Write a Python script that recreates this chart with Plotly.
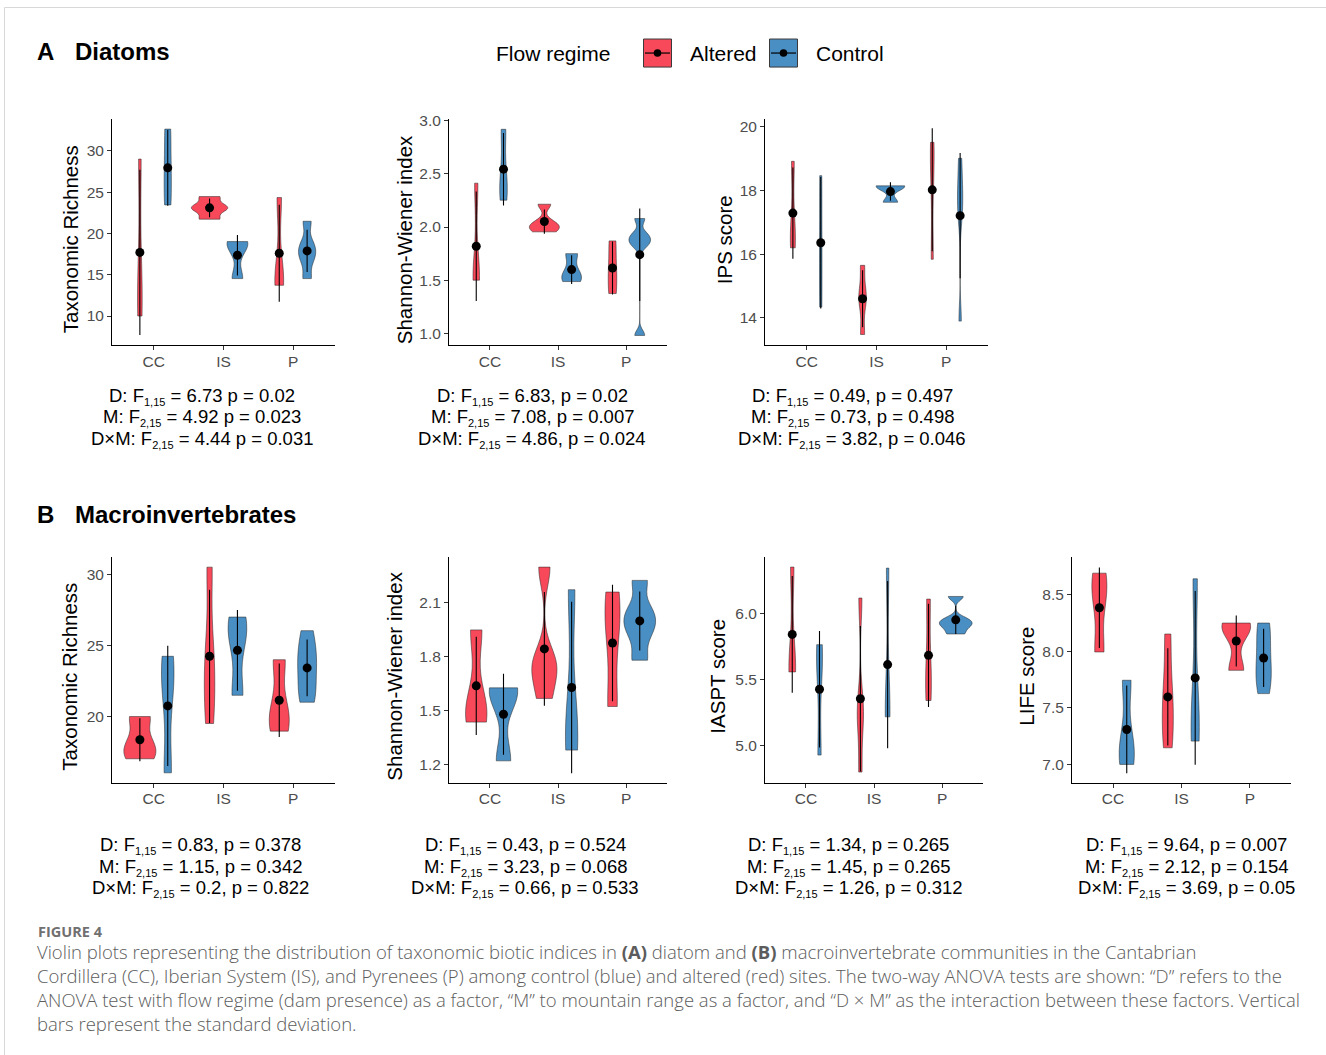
import numpy as np
import plotly.graph_objects as go

W, H = 1326, 1055
SITES = ["CC", "IS", "P"]

# ---------------- Diatoms: observations per site (CC, IS, P) ----------------
dia_richness_alt = [[10.0, 14.1, 29.0], [21.72, 22.9, 23.3, 24.46], [13.72, 14.74, 24.34]]
dia_richness_ctl = [[23.45, 27.74, 32.63], [14.53, 18.51, 19.01], [14.53, 16.8, 17.8, 18.8, 21.47]]
dia_shannon_alt = [[1.5, 1.544, 2.413], [1.955, 2.0, 2.038, 2.215], [1.374, 1.6, 1.87]]
dia_shannon_ctl = [[2.253, 2.462, 2.92], [1.487, 1.563, 1.75], [0.98, 1.83, 1.88, 1.93, 2.08]]
dia_ips_alt = [[16.2, 16.755, 18.915], [13.48, 14.5, 14.77, 15.65], [15.84, 18.71, 19.51]]
dia_ips_ctl = [[14.34, 16.274, 18.466], [17.63, 18.12, 18.145], [13.9, 17.2, 17.7, 18.24, 19.01]]

# ---------------- Macroinvertebrates ----------------
mac_richness_alt = [[17.02, 18.06, 20.0], [19.51, 22.24, 24.71, 30.54], [18.97, 20.47, 24.01]]
mac_richness_ctl = [[16.03, 21.97, 24.25], [21.5, 25.49, 27.02], [21.01, 22.0, 23.6, 24.48, 26.06]]
mac_shannon_alt = [[1.436, 1.528, 1.95], [1.568, 1.74, 1.768, 2.30], [1.523, 1.947, 2.161]]
mac_shannon_ctl = [[1.22, 1.593, 1.627], [1.28, 1.433, 2.174], [1.781, 1.93, 2.0, 2.063, 2.226]]
mac_iaspt_alt = [[5.558, 5.617, 6.354], [4.798, 5.24, 5.26, 6.119], [5.341, 5.6, 6.111]]
mac_iaspt_ctl = [[4.927, 5.589, 5.765], [5.217, 5.279, 6.346], [5.846, 5.9, 5.93, 5.96, 6.131]]
mac_life_alt = [[7.994, 8.47, 8.691], [7.147, 7.407, 7.681, 8.153], [7.832, 8.191, 8.25]]
mac_life_ctl = [[7.0, 7.183, 7.744], [7.206, 7.448, 8.641], [7.626, 7.78, 7.9, 8.149, 8.25]]

# ---------------- Two-way ANOVA results ----------------
dia_richness_anova = [("D", "1,15", "6.73", " p = 0.02"),
                      ("M", "2,15", "4.92", " p = 0.023"),
                      ("D×M", "2,15", "4.44", " p = 0.031")]
dia_shannon_anova = [("D", "1,15", "6.83", ", p = 0.02"),
                     ("M", "2,15", "7.08", ", p = 0.007"),
                     ("D×M", "2,15", "4.86", ", p = 0.024")]
dia_ips_anova = [("D", "1,15", "0.49", ", p = 0.497"),
                 ("M", "2,15", "0.73", ", p = 0.498"),
                 ("D×M", "2,15", "3.82", ", p = 0.046")]
mac_richness_anova = [("D", "1,15", "0.83", ", p = 0.378"),
                      ("M", "2,15", "1.15", ", p = 0.342"),
                      ("D×M", "2,15", "0.2", ", p = 0.822")]
mac_shannon_anova = [("D", "1,15", "0.43", ", p = 0.524"),
                     ("M", "2,15", "3.23", ", p = 0.068"),
                     ("D×M", "2,15", "0.66", ", p = 0.533")]
mac_iaspt_anova = [("D", "1,15", "1.34", ", p = 0.265"),
                   ("M", "2,15", "1.45", ", p = 0.265"),
                   ("D×M", "2,15", "1.26", ", p = 0.312")]
mac_life_anova = [("D", "1,15", "9.64", ", p = 0.007"),
                  ("M", "2,15", "2.12", ", p = 0.154"),
                  ("D×M", "2,15", "3.69", ", p = 0.05")]

caption_lines = [
    "Violin plots representing the distribution of taxonomic biotic indices in <b>(A)</b> diatom and <b>(B)</b> macroinvertebrate communities in the Cantabrian",
    "Cordillera (CC), Iberian System (IS), and Pyrenees (P) among control (blue) and altered (red) sites. The two-way ANOVA tests are shown: \u201cD\u201d refers to the",
    "ANOVA test with flow regime (dam presence) as a factor, \u201cM\u201d to mountain range as a factor, and \u201cD \u00d7 M\u201d as the interaction between these factors. Vertical",
    "bars represent the standard deviation.",
]

# ---------------- styling ----------------
FONT = "Liberation Sans, Arial, Helvetica, sans-serif"
CAP_FONT = "Open Sans, Lato, sans-serif"
RED = "rgb(248,73,90)"
BLUE = "rgb(74,143,196)"
OUTLINE = "rgba(35,35,35,0.85)"
TICK_GREY = "#4D4D4D"
DODGE = 0.2

ROW_A = (120, 346)
ROW_B = (557, 783)

# panel layout: pixel boxes, axis ranges, ticks and the widest violin's width
panels = [
    dict(alt=dia_richness_alt, ctl=dia_richness_ctl, ytitle="Taxonomic Richness", anova=dia_richness_anova,
         px=(112, 335), py=ROW_A, yr=(6.45, 33.84), ticks=[10, 15, 20, 25, 30], fmt="d",
         vw=0.52, tx=70, sx=202),
    dict(alt=dia_shannon_alt, ctl=dia_shannon_ctl, ytitle="Shannon-Wiener index", anova=dia_shannon_anova,
         px=(449, 667), py=ROW_A, yr=(0.887, 3.016), ticks=[1.0, 1.5, 2.0, 2.5, 3.0], fmt=".1f",
         vw=0.44, tx=404, sx=532),
    dict(alt=dia_ips_alt, ctl=dia_ips_ctl, ytitle="IPS score", anova=dia_ips_anova,
         px=(765, 988), py=ROW_A, yr=(13.14, 20.24), ticks=[14, 16, 18, 20], fmt="d",
         vw=0.41, tx=724, sx=852),
    dict(alt=mac_richness_alt, ctl=mac_richness_ctl, ytitle="Taxonomic Richness", anova=mac_richness_anova,
         px=(112, 335), py=ROW_B, yr=(15.33, 31.29), ticks=[20, 25, 30], fmt="d",
         vw=0.46, tx=70, sx=201),
    dict(alt=mac_shannon_alt, ctl=mac_shannon_ctl, ytitle="Shannon-Wiener index", anova=mac_shannon_anova,
         px=(449, 667), py=ROW_B, yr=(1.098, 2.359), ticks=[1.2, 1.5, 1.8, 2.1], fmt=".1f",
         vw=0.465, tx=395, sx=525),
    dict(alt=mac_iaspt_alt, ctl=mac_iaspt_ctl, ytitle="IASPT score", anova=mac_iaspt_anova,
         px=(765, 983), py=ROW_B, yr=(4.717, 6.434), ticks=[5.0, 5.5, 6.0], fmt=".1f",
         vw=0.48, tx=718, sx=849),
    dict(alt=mac_life_alt, ctl=mac_life_ctl, ytitle="LIFE score", anova=mac_life_anova,
         px=(1072, 1291), py=ROW_B, yr=(6.838, 8.838), ticks=[7.0, 7.5, 8.0, 8.5], fmt=".1f",
         vw=0.42, tx=1027, sx=1186),
]

# page pixels -> paper coordinates (the page body sits 8 px below the window top)
PAGE_TOP = 8
PAGE_H = H - PAGE_TOP


def fx(px):
    return px / W


def fy(py):
    return 1 - (py - PAGE_TOP) / PAGE_H


def nrd0(v):
    """Silverman's rule of thumb as used by R's density()."""
    v = np.asarray(v, dtype=float)
    hi = np.std(v, ddof=1)
    q25, q75 = np.percentile(v, [25, 75])
    lo = min(hi, (q75 - q25) / 1.34)
    if lo <= 0:
        lo = hi if hi > 0 else (abs(v[0]) or 1.0)
    return 0.9 * lo * len(v) ** -0.2


def kde_peak(v):
    """Highest gaussian-kernel density over the (trimmed) data span."""
    v = np.asarray(v, dtype=float)
    bw = nrd0(v)
    grid = np.linspace(v.min(), v.max(), 512)
    dens = np.exp(-0.5 * ((grid[:, None] - v[None, :]) / bw) ** 2).sum(axis=1)
    return dens.max() / (len(v) * bw * np.sqrt(2 * np.pi))


def anova_text(term, df, f, rest):
    return f"{term}: F<sub><span style='font-size:11px'>{df}</span></sub> = {f}{rest}"


fig = go.Figure()
annotations = []
shapes = []
layout_axes = {}

for i, p in enumerate(panels):
    n = i + 1
    xa, ya = ("x", "y") if n == 1 else (f"x{n}", f"y{n}")

    # equal-area violins: width proportional to each group's peak density
    groups = [(obs, RED, j - DODGE) for j, obs in enumerate(p["alt"])] + \
             [(obs, BLUE, j + DODGE) for j, obs in enumerate(p["ctl"])]
    peaks = [kde_peak(obs) for obs, _, _ in groups]
    top_peak = max(peaks)

    xs, means, sds = [], [], []
    for (obs, fill, pos), pk in zip(groups, peaks):
        fig.add_trace(go.Violin(
            x=[pos] * len(obs), y=obs, orientation="v",
            xaxis=xa, yaxis=ya,
            width=p["vw"] * pk / top_peak, scalemode="width",
            spanmode="hard", bandwidth=nrd0(obs),
            points=False, box_visible=False, meanline_visible=False,
            fillcolor=fill, line=dict(color=OUTLINE, width=0.6),
            showlegend=False, hoverinfo="skip",
        ))
        xs.append(pos)
        means.append(float(np.mean(obs)))
        sds.append(float(np.std(obs, ddof=1)))

    # mean ± standard deviation
    fig.add_trace(go.Scatter(
        x=xs, y=means, mode="markers", xaxis=xa, yaxis=ya,
        marker=dict(color="black", size=9),
        error_y=dict(type="data", array=sds, width=0, thickness=1.1, color="black"),
        showlegend=False, hoverinfo="skip",
    ))

    suffix = "" if n == 1 else str(n)
    axis_style = dict(
        type="linear", showline=True, linecolor="black", linewidth=1,
        showgrid=False, zeroline=False,
        ticks="outside", ticklen=4, tickwidth=1, tickcolor="#333333",
        tickfont=dict(family=FONT, size=15.5, color=TICK_GREY),
    )
    layout_axes[f"xaxis{suffix}"] = dict(
        domain=[fx(p["px"][0]), fx(p["px"][1])], anchor=ya,
        range=[-0.6, 2.6], tickvals=[0, 1, 2], ticktext=SITES,
        ticklabelstandoff=-2, **axis_style,
    )
    layout_axes[f"yaxis{suffix}"] = dict(
        domain=[fy(p["py"][1]), fy(p["py"][0])], anchor=xa,
        range=list(p["yr"]), tickvals=p["ticks"], tickformat=p["fmt"], **axis_style,
    )

    # y-axis title
    ymid = (p["py"][0] + p["py"][1]) / 2 + 7
    annotations.append(dict(
        x=fx(p["tx"]), y=fy(ymid), xref="paper", yref="paper", text=p["ytitle"],
        textangle=-90, showarrow=False, xanchor="center", yanchor="middle",
        font=dict(family=FONT, size=20.5, color="black"),
    ))

    # ANOVA summary under the panel
    base = 397 if p["py"] == ROW_A else 846
    for k, row in enumerate(p["anova"]):
        annotations.append(dict(
            x=fx(p["sx"]), y=fy(base + k * 21.5), xref="paper", yref="paper", text=anova_text(*row),
            showarrow=False, xanchor="center", yanchor="middle",
            font=dict(family=FONT, size=18.5, color="black"),
        ))

# section headings
for letter, title, py in (("A", "Diatoms", 52), ("B", "Macroinvertebrates", 515)):
    annotations.append(dict(x=fx(35), y=fy(py), xref="paper", yref="paper", text=f"<b>{letter}</b>",
                            showarrow=False, xanchor="left", yanchor="middle",
                            font=dict(family=FONT, size=24, color="black")))
    annotations.append(dict(x=fx(73), y=fy(py), xref="paper", yref="paper", text=f"<b>{title}</b>",
                            showarrow=False, xanchor="left", yanchor="middle",
                            font=dict(family=FONT, size=24, color="black")))

# legend: Flow regime
annotations.append(dict(x=fx(553), y=fy(54), xref="paper", yref="paper", text="Flow regime",
                        showarrow=False, xanchor="center", yanchor="middle",
                        font=dict(family=FONT, size=21, color="black")))
for label, fill, x0, tx in (("Altered", RED, 643.5, 688), ("Control", BLUE, 769.5, 814)):
    shapes.append(dict(type="rect", xref="paper", yref="paper",
                       x0=fx(x0), x1=fx(x0 + 28), y0=fy(68), y1=fy(40),
                       fillcolor=fill, line=dict(color="#3a3a3a", width=1)))
    shapes.append(dict(type="line", xref="paper", yref="paper",
                       x0=fx(x0 + 1.5), x1=fx(x0 + 26.5), y0=fy(54), y1=fy(54),
                       line=dict(color="black", width=1.2)))
    shapes.append(dict(type="circle", xref="paper", yref="paper",
                       x0=fx(x0 + 14 - 3.8), x1=fx(x0 + 14 + 3.8), y0=fy(54 + 3.8), y1=fy(54 - 3.8),
                       fillcolor="black", line=dict(color="black", width=0)))
    annotations.append(dict(x=fx(tx), y=fy(54), xref="paper", yref="paper", text=label,
                            showarrow=False, xanchor="left", yanchor="middle",
                            font=dict(family=FONT, size=21, color="black")))

# caption
annotations.append(dict(x=fx(36), y=fy(932), xref="paper", yref="paper", text="<b>FIGURE 4</b>",
                        showarrow=False, xanchor="left", yanchor="middle",
                        font=dict(family=CAP_FONT, size=14.5, color="#707070")))
for k, line in enumerate(caption_lines):
    annotations.append(dict(x=fx(35), y=fy(952 + 24 * k), xref="paper", yref="paper", text=line,
                            showarrow=False, xanchor="left", yanchor="middle",
                            font=dict(family=CAP_FONT, size=18.5, color="#5c5c5c", weight=300)))

# page frame
shapes.append(dict(type="line", xref="paper", yref="paper", x0=fx(4.5), x1=1.0, y0=fy(8.5), y1=fy(8.5),
                   line=dict(color="#d8d8d8", width=1)))
shapes.append(dict(type="line", xref="paper", yref="paper", x0=fx(4.5), x1=fx(4.5), y0=fy(8.5), y1=0.0,
                   line=dict(color="#d8d8d8", width=1)))

fig.update_layout(
    width=W, height=H, margin=dict(l=0, r=0, t=0, b=0),
    paper_bgcolor="white", plot_bgcolor="white",
    violinmode="overlay",
    annotations=annotations, shapes=shapes,
    font=dict(family=FONT),
    **layout_axes,
)

fig.write_html("out.html")
